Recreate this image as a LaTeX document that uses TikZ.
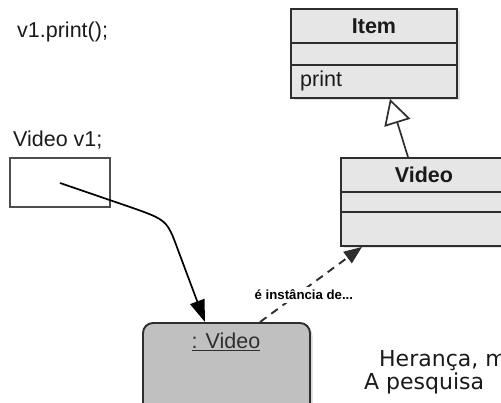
\documentclass[tikz,border=0pt]{standalone}
\usepackage{fontspec}
\setmainfont{Liberation Sans}
\newfontfamily\notefont{DejaVu Sans}
\usetikzlibrary{arrows.meta,shadows}
\definecolor{classfill}{HTML}{E6E6E6}
\definecolor{objfill}{HTML}{C0C0C0}
\definecolor{edgecol}{HTML}{2E2E2E}
\definecolor{inkcol}{HTML}{1A1A1A}

\begin{document}
\begin{tikzpicture}[x=1pt,y=-1pt,
  txt/.style={text=inkcol, inner sep=0pt, font=\fontsize{21.5}{24}\selectfont},
  classbox/.style={draw=edgecol, line width=1.9pt, fill=classfill, inner sep=0pt,
    minimum width=166pt,
    drop shadow={shadow xshift=2.5pt, shadow yshift=-2.5pt, opacity=0.22}},
  divider/.style={draw=edgecol, line width=1.7pt},
  varbox/.style={draw=edgecol!85, line width=1.9pt, fill=white, inner sep=0pt,
    minimum width=100pt, minimum height=49pt},
  objbox/.style={draw=edgecol, line width=1.9pt, fill=objfill, rounded corners=10pt,
    inner sep=0pt, minimum width=167pt, minimum height=110pt,
    drop shadow={shadow xshift=2.5pt, shadow yshift=-2.5pt, opacity=0.3}},
  refline/.style={draw=black, line width=1.7pt, -{Triangle[length=22pt,width=15pt]}},
  inherit/.style={draw=edgecol, line width=1.7pt,
    -{Triangle[open, length=25pt, width=27pt, fill=white]}},
  instance/.style={draw=edgecol, line width=1.9pt, dash pattern=on 8pt off 6pt,
    -{Triangle[length=18pt, width=14pt]}},
  edgelabel/.style={fill=white, inner sep=3pt, text=black,
    font=\bfseries\fontsize{13.2}{15}\selectfont},
  note/.style={anchor=base west, inner sep=0pt, text=inkcol,
    font=\notefont\fontsize{22}{26}\selectfont}
]
\useasboundingbox (0,0) rectangle (501,403);
\clip (0,0) rectangle (501,403);

% code lines
\node[txt, anchor=base west] (call) at (17,38) {v1.print();};
\node[txt, anchor=base west] (decl) at (13,147) {Video v1;};

% reference variable
\node[varbox] (var) at (60,182.5) {};
\coordinate (ref) at (60,183);

% class Item
\node[classbox, minimum height=89pt] (item) at (374,53.5) {};
\draw[divider] (item.west |- 0,43) -- (item.east |- 0,43);
\draw[divider] (item.west |- 0,65) -- (item.east |- 0,65);
\node[txt, font=\bfseries\fontsize{21.5}{24}\selectfont] (itemname) at (374,26) {Item};
\node[txt, anchor=west] (itemop) at (300,81) {print};

% class Video
\node[classbox, minimum height=88pt] (video) at (424,202) {};
\draw[divider] (video.west |- 0,192) -- (video.east |- 0,192);
\draw[divider] (video.west |- 0,212) -- (video.east |- 0,212);
\node[txt, font=\bfseries\fontsize{21.5}{24}\selectfont] (videoname) at (424,175) {Video};

% object instance
\node[objbox] (obj) at (226.5,378) {};
\node[txt, text=edgecol] (objname) at (226,342) {\underline{: Video}};

% connectors
\draw[inherit] (video.north -| 408,0) -- (item.south -| 390,0);
\draw[refline] (ref) -- (130,207) .. controls (167,220) .. (178,250) -- (obj.north -| 205,0);
\draw[instance] (obj.north -| 260,0) --
  node[edgelabel, pos=0.43, yshift=-5pt] (instlabel) {é instância de...}
  (video.south -| 362,0);

% notes
\node[note] (note1) at (379,367) {Herança, m};
\node[note] (note2) at (364,390) {A pesquisa};
\end{tikzpicture}
\end{document}
